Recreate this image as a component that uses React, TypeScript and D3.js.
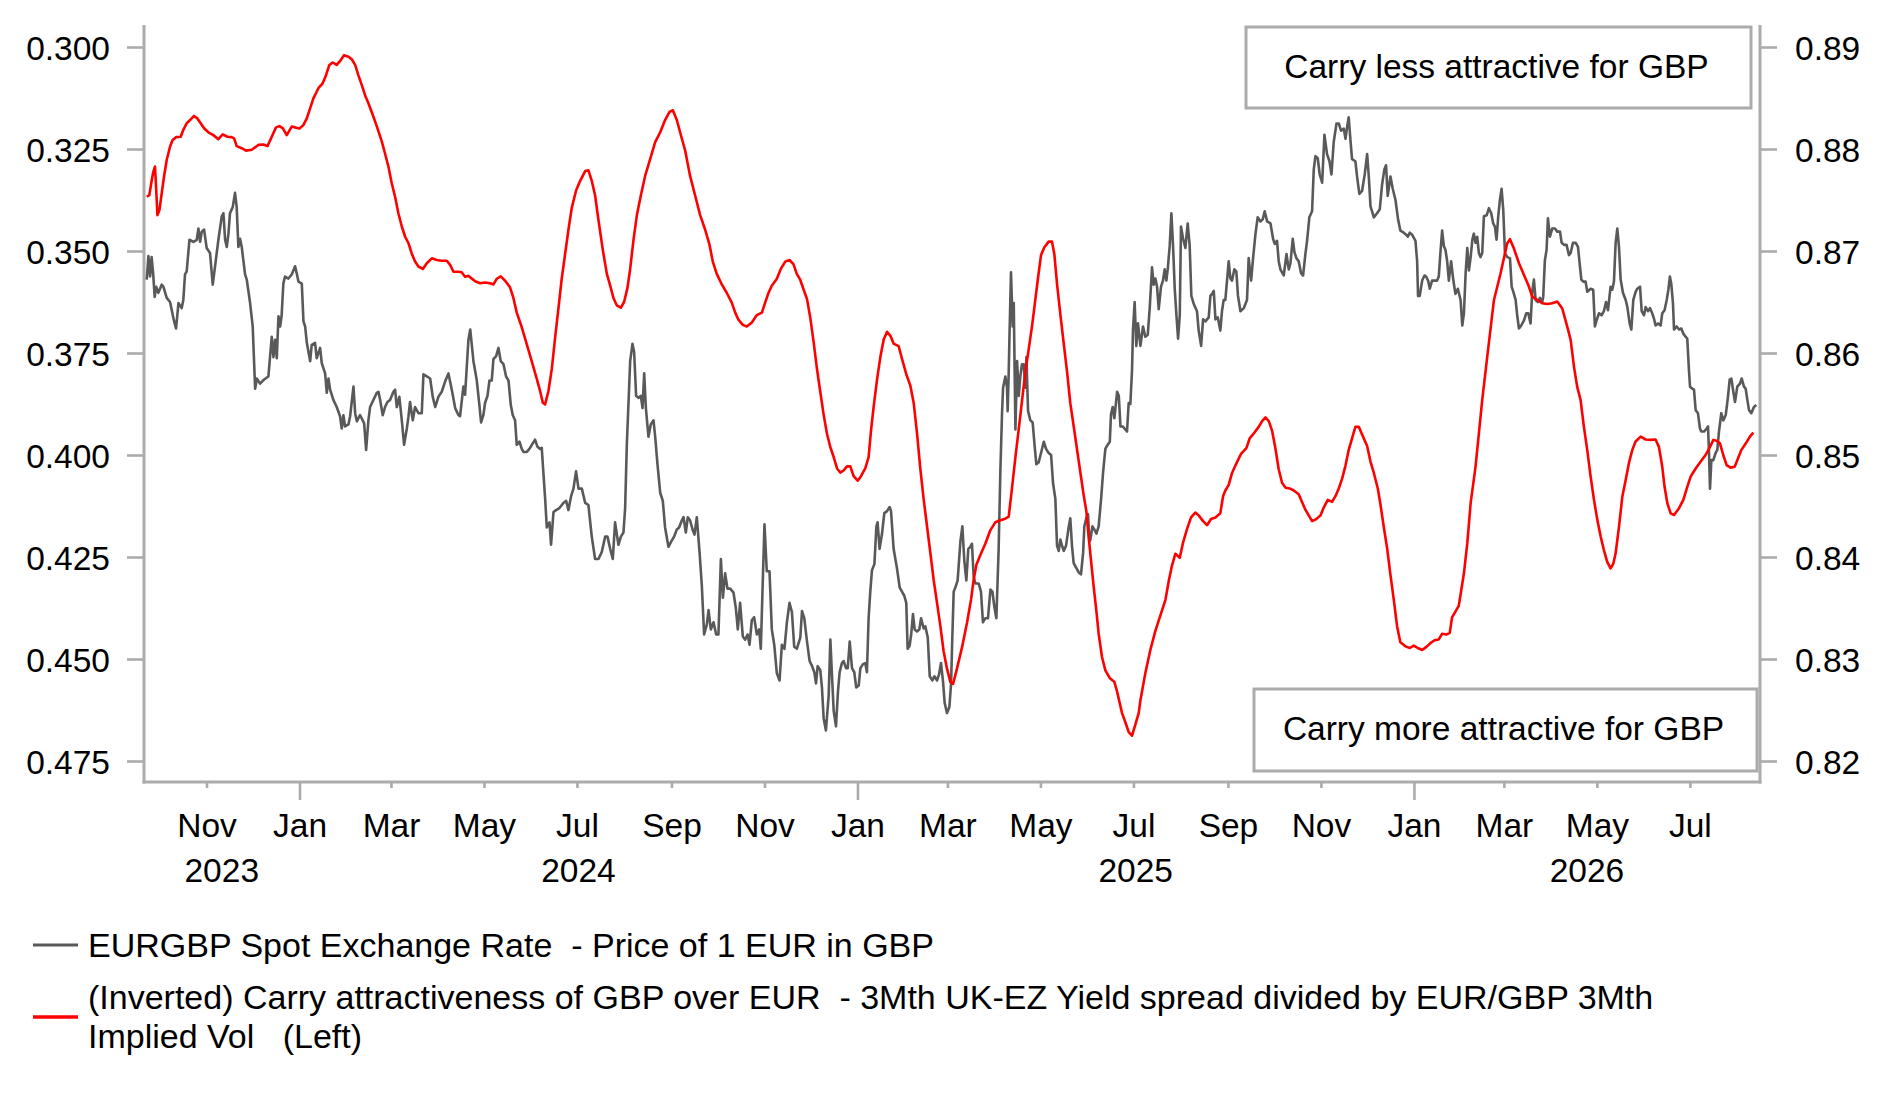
import React, { useEffect, useRef } from "react";
import * as d3 from "d3";

// x values are days counted from 21 Sep 2023 (left edge of the chart)
const START = new Date(2023, 8, 21);
const END = new Date(2026, 7, 16);

// EURGBP spot, right axis
const eurgbpSpot: [number, number][] = [
  [1.8,0.8672],[2.9,0.8695],[4,0.8675],[5,0.8694],[6,0.8678],[7,0.8655],[8,0.8665],[9.4,0.8659],[11.6,0.8667],[12.7,0.8665],
  [14.9,0.8654],[17.1,0.865],[19.3,0.8634],[21,0.8624],[22.6,0.8649],[24.7,0.8644],[25.8,0.8652],[26.9,0.8677],[28,0.868],[29.8,0.8711],
  [32.4,0.8709],[34.6,0.8711],[35.7,0.8722],[36.8,0.8709],[37.9,0.8719],[39.4,0.8721],[41.1,0.8703],[43.3,0.8698],[45.1,0.8667],[46.6,0.8685],
  [48.8,0.8711],[51,0.8734],[52.1,0.8737],[53.2,0.8711],[54.3,0.8704],[55.4,0.8717],[56.4,0.8737],[58.2,0.8743],[59.7,0.8757],[60.8,0.8743],
  [61.9,0.8704],[63,0.8712],[64.1,0.8704],[66.3,0.8677],[67.4,0.8672],[69.6,0.8649],[71.3,0.8626],[72.9,0.8565],[74,0.8575],[76.1,0.857],
  [78.8,0.8574],[81.6,0.8577],[83.8,0.8616],[84.9,0.8596],[86,0.8613],[87.1,0.8595],[88.2,0.8636],[89.3,0.8626],[90.3,0.8637],[91.4,0.8668],
  [92.5,0.8675],[94.7,0.8673],[96.9,0.8677],[99.1,0.8685],[100.2,0.8678],[101.3,0.867],[103.5,0.8668],[104.6,0.8631],[105.7,0.8626],[106.8,0.861],
  [109,0.8592],[110,0.8608],[112.2,0.861],[113.3,0.8595],[115.5,0.8605],[116.6,0.859],[118.8,0.858],[119.9,0.8561],[121,0.8575],[122.1,0.8564],
  [124.2,0.8554],[126.4,0.8547],[128.6,0.8538],[129.7,0.8526],[130.8,0.8539],[131.9,0.8528],[134.1,0.853],[135.2,0.8538],[137.4,0.8567],[138.5,0.8541],
  [139.6,0.8533],[141.7,0.8539],[142.8,0.8536],[144.4,0.8531],[145.7,0.8505],[147.2,0.8534],[148.3,0.8547],[150.5,0.8554],[152.7,0.8561],[153.8,0.8562],
  [154.9,0.8554],[156.6,0.8539],[158.1,0.8547],[159.7,0.8552],[161.4,0.8554],[163.6,0.8562],[164.7,0.8564],[165.8,0.8547],[167.5,0.8557],[169.1,0.8534],
  [170.6,0.851],[172.4,0.8526],[173.5,0.8538],[174.5,0.8552],[176.3,0.8534],[177.8,0.8547],[180,0.8541],[182.2,0.8541],[183.3,0.8579],[185.5,0.8577],
  [187.7,0.8575],[189.4,0.8557],[191,0.8547],[193.1,0.8557],[195.3,0.8562],[197.5,0.8572],[199.7,0.858],[201.9,0.8564],[204.1,0.8546],[206.3,0.8539],
  [207.3,0.8538],[209.5,0.8567],[210.6,0.8559],[212.8,0.8613],[214,0.8623],[216.1,0.8592],[218.3,0.8573],[220,0.8549],[221.1,0.8532],[222.6,0.8539],
  [223.7,0.8551],[225.3,0.8558],[226.6,0.8573],[228.1,0.8573],[229.2,0.8594],[231,0.8597],[232.5,0.8605],[234,0.8592],[235.8,0.8589],[237.5,0.8577],
  [239.1,0.8573],[240.6,0.8549],[241.9,0.8539],[243.4,0.8534],[244.5,0.851],[246.3,0.8513],[247.8,0.8506],[248.9,0.8503],[251.1,0.8503],[252.8,0.8506],
  [254.4,0.851],[256.5,0.8515],[258.1,0.8508],[259.8,0.8506],[260.9,0.8507],[262,0.8482],[263.1,0.8458],[264.2,0.8429],[266,0.8434],[267,0.8412],
  [268.6,0.8444],[270.3,0.8446],[272.5,0.8448],[275.1,0.8453],[276.9,0.8455],[278.4,0.8446],[280.2,0.846],[281.7,0.8467],[283.4,0.8484],[285,0.8467],
  [287.2,0.8467],[289.4,0.8453],[291.5,0.8451],[293.7,0.842],[295.9,0.8398],[298.1,0.8398],[300.3,0.8405],[302.5,0.842],[304,0.842],[305.8,0.8408],
  [307.5,0.8398],[309,0.8434],[311.2,0.8412],[312.8,0.842],[314.5,0.8424],[315.6,0.8448],[316.7,0.851],[318.9,0.8592],[320.4,0.8609],[321.5,0.8601],
  [322.8,0.8558],[324.3,0.8556],[325.9,0.8558],[327,0.8546],[328.1,0.858],[329.2,0.8546],[330.9,0.8518],[332.4,0.853],[334.2,0.8534],[335.3,0.8518],
  [336.8,0.8491],[338.6,0.8463],[340.3,0.8455],[341.8,0.8429],[344,0.841],[345.8,0.8415],[347.7,0.842],[349.5,0.8427],[351,0.8429],[352.8,0.8436],
  [353.9,0.8439],[355.4,0.8424],[356.7,0.8439],[358.2,0.8436],[359.8,0.8427],[361.1,0.8422],[362.6,0.8439],[364.4,0.8405],[365.9,0.8372],[367.4,0.8324],
  [369.2,0.8334],[370.3,0.8348],[371.8,0.8329],[373.6,0.8336],[375.3,0.8324],[376.8,0.8324],[378.4,0.8398],[379.7,0.836],[381.2,0.8384],[382.7,0.8369],
  [384.5,0.8369],[386.7,0.8365],[388.2,0.835],[389.5,0.8329],[391,0.8355],[392.8,0.8322],[394.3,0.8319],[395.9,0.8324],[397.2,0.8314],[398.7,0.8338],
  [400.2,0.8341],[402,0.8324],[403.5,0.8329],[404.6,0.831],[405.7,0.8367],[407,0.8432],[408.5,0.8386],[410.3,0.8386],[411.8,0.8329],[413.4,0.8314],
  [415.1,0.8286],[416.9,0.8279],[418.4,0.8314],[420.1,0.831],[421.7,0.8336],[423.4,0.8355],[425,0.8346],[426.5,0.8312],[428.2,0.831],[430.5,0.8321],
  [431.6,0.8347],[433.1,0.834],[434.9,0.8317],[436.6,0.8298],[438.2,0.8293],[439.7,0.8287],[440.8,0.8276],[441.9,0.8293],[443.6,0.8289],[444.7,0.8272],
  [445.8,0.8242],[447.3,0.823],[449.1,0.8264],[450.2,0.8319],[451.3,0.8283],[452.4,0.8249],[453.9,0.8234],[455.2,0.8268],[456.3,0.8287],[457.8,0.8296],
  [458.9,0.8298],[460.5,0.8291],[461.6,0.8291],[462.9,0.8317],[464.4,0.8291],[465.9,0.8287],[467.2,0.8272],[468.8,0.8274],[469.9,0.8291],[471.6,0.8295],
  [473.1,0.8296],[474.2,0.8287],[475.3,0.834],[476.4,0.8366],[477.5,0.8387],[479.1,0.8393],[480.4,0.843],[481.2,0.8434],[482.5,0.8408],[484.1,0.8423],
  [485.6,0.8443],[487.4,0.8445],[489.1,0.8449],[490,0.8445],[491.7,0.8408],[493.9,0.8389],[495.7,0.837],[497.2,0.8366],[498.7,0.8362],[500,0.8355],
  [500.9,0.831],[502.2,0.8313],[503.3,0.8325],[504.4,0.8344],[505.5,0.8329],[507,0.8327],[508.6,0.8329],[509.7,0.834],[511.4,0.833],[512.5,0.8332],
  [514.1,0.8321],[515.4,0.8283],[517.1,0.8279],[518.4,0.8283],[520.2,0.8279],[521.5,0.8285],[522.8,0.8296],[524.1,0.8278],[525.2,0.8257],[526.7,0.8247],
  [528.3,0.8253],[529.4,0.8276],[530,0.831],[531.1,0.8366],[532.2,0.837],[533.7,0.8377],[535.5,0.8415],[536.8,0.843],[538.1,0.8396],[539.4,0.8377],
  [540.7,0.8408],[542,0.841],[543.1,0.8413],[544.2,0.8381],[545.3,0.8374],[547.5,0.8374],[549,0.8366],[550.3,0.8336],[551.9,0.834],[553.6,0.834],
  [555.2,0.8368],[556.5,0.8366],[557.8,0.8351],[559.1,0.834],[560.6,0.8408],[561.7,0.8483],[562.8,0.854],[563.5,0.8566],[565,0.8577],[566.1,0.8566],
  [566.5,0.8543],[567.2,0.8581],[567.8,0.8623],[568.7,0.8679],[569.8,0.8626],[570.5,0.8649],[571.6,0.8525],[572.7,0.8592],[573.8,0.8558],[574.8,0.8577],
  [575.9,0.8589],[577,0.8589],[578.1,0.8566],[578.8,0.8596],[579.9,0.8543],[581.4,0.8534],[582.9,0.8532],[584.2,0.8509],[585.3,0.8491],[586.9,0.8493],
  [588.4,0.8502],[590.2,0.8513],[591.7,0.8506],[593.4,0.8502],[595,0.85],[596.3,0.8472],[597.8,0.8457],[598.9,0.8411],[600,0.8406],[601.1,0.8417],
  [602.2,0.8411],[603.3,0.8406],[604.8,0.8411],[606.6,0.843],[607.6,0.8438],[608.7,0.8411],[609.8,0.8394],[611.6,0.8389],[613.1,0.8385],[614.6,0.8383],
  [616,0.8404],[616.8,0.843],[618.1,0.8438],[619.2,0.8442],[620.1,0.8415],[620.8,0.8417],[622.1,0.843],[623.4,0.8427],[624.7,0.8423],[626.2,0.843],
  [627.8,0.8457],[629.1,0.8483],[630.6,0.8506],[631.7,0.8509],[633.5,0.8513],[634.3,0.854],[635.4,0.8547],[636.5,0.8536],[637.4,0.8549],[638.3,0.8562],
  [639.4,0.8558],[640.5,0.8528],[642,0.8528],[643.7,0.8525],[644.8,0.8523],[645.9,0.8551],[647,0.855],[648.1,0.8584],[648.7,0.8622],[649.8,0.865],
  [650.9,0.8607],[652,0.8629],[653.6,0.8607],[655.3,0.8626],[656.8,0.8616],[658.4,0.8618],[659.7,0.8644],[661.2,0.8684],[662.3,0.8667],[663.4,0.8673],
  [664.5,0.8665],[665.6,0.8643],[667.1,0.8665],[668.4,0.8671],[669.5,0.8682],[670.6,0.8671],[671.5,0.8682],[672.8,0.8705],[673.9,0.8737],[675,0.8705],
  [676.1,0.8663],[677.2,0.8637],[678.3,0.8614],[679.4,0.8637],[680.2,0.8724],[681.6,0.8712],[683.1,0.8703],[684.6,0.8727],[685.9,0.8705],[687,0.8656],
  [688.6,0.8648],[690.7,0.8641],[691.8,0.8622],[693.4,0.8607],[694.7,0.8633],[696.2,0.8631],[698.4,0.8635],[699.5,0.8656],[700.6,0.8658],[701.7,0.8661],
  [702.8,0.8633],[704.3,0.8635],[706,0.8622],[707.1,0.8641],[708.2,0.8652],[709.3,0.8652],[710.4,0.8671],[711.5,0.869],[712.6,0.8673],[713.7,0.8671],
  [715.2,0.8682],[716.5,0.868],[717.6,0.8656],[719.2,0.8641],[721.4,0.8644],[723.5,0.8652],[724.6,0.8693],[726.2,0.8671],[727.5,0.8693],[729,0.8716],
  [730.5,0.8733],[732.3,0.8729],[733.8,0.8731],[735.1,0.8739],[736.7,0.8729],[738.9,0.8727],[740.6,0.8712],[741.7,0.8707],[743.2,0.871],[744.3,0.869],
  [745.4,0.8682],[747.6,0.8676],[749.4,0.8697],[750.9,0.8682],[752,0.8688],[753.5,0.8712],[754.6,0.8699],[755.9,0.8693],[757.4,0.869],[759,0.8678],
  [760.3,0.8676],[761.8,0.8697],[762.9,0.871],[764.4,0.8733],[766.2,0.8739],[767.3,0.878],[768.4,0.8793],[769.9,0.8791],[771.2,0.8775],[772.8,0.8767],
  [774.3,0.8814],[776,0.8795],[777.6,0.8788],[778.9,0.8775],[780.4,0.8807],[782.2,0.8825],[783.7,0.8825],[785.2,0.8818],[787,0.882],[788.1,0.881],
  [789.2,0.8822],[790.2,0.8831],[791.3,0.881],[792.4,0.879],[794.6,0.8788],[795.7,0.8773],[797.2,0.8756],[799,0.8759],[800.7,0.8775],[802.3,0.8795],
  [803.4,0.8773],[804.5,0.8744],[806.7,0.8733],[808.8,0.8737],[810.6,0.8741],[812.1,0.8765],[813.6,0.878],[814.7,0.8784],[815.8,0.8754],[817.6,0.8773],
  [819.1,0.8761],[820.9,0.875],[822.6,0.8731],[824.1,0.872],[826.3,0.8718],[827.9,0.8716],[829,0.8714],[830.3,0.8718],[831.8,0.8716],[834,0.871],
  [835.1,0.869],[835.7,0.8656],[836.8,0.8656],[838.4,0.8671],[839.9,0.8676],[841,0.8675],[842.3,0.8671],[843.4,0.8663],[844.9,0.8671],[846.5,0.8671],
  [848.2,0.8671],[849.3,0.8675],[850.4,0.8699],[851.5,0.872],[852.6,0.8705],[853.7,0.8701],[854.8,0.869],[855.9,0.8671],[857.4,0.869],[858.7,0.8673],
  [860.2,0.8658],[861.8,0.8663],[863.6,0.8652],[864.7,0.8627],[865.8,0.8639],[866.9,0.8678],[868,0.8703],[869.1,0.8681],[870.2,0.8694],[871.3,0.8711],
  [872.3,0.8717],[873.4,0.8708],[874.5,0.8714],[875.6,0.8698],[876.7,0.8694],[877.8,0.8698],[878.9,0.8734],[880.7,0.8735],[882.2,0.8742],[883.7,0.8737],
  [885,0.8727],[886.1,0.8724],[887.2,0.8711],[888.3,0.8734],[889.4,0.875],[890.5,0.8761],[891.6,0.874],[892.7,0.8698],[894.2,0.8694],[896,0.8693],
  [897.1,0.8665],[898.2,0.866],[899.7,0.8652],[900.8,0.8636],[901.9,0.8624],[903.4,0.8627],[905.2,0.8632],[906.7,0.8639],[908,0.8639],[909.5,0.8629],
  [910.6,0.866],[911.7,0.8672],[912.8,0.8652],[914.3,0.865],[915.7,0.8654],[917,0.8649],[917.8,0.8655],[918.9,0.8691],[920,0.8701],[920.9,0.8732],
  [922.2,0.8714],[923.7,0.8722],[925.5,0.8722],[927,0.8719],[928.8,0.8719],[929.9,0.8708],[931.4,0.8706],[933.1,0.8706],[934.7,0.8696],[935.8,0.8698],
  [937.3,0.8708],[939.1,0.8708],[940.6,0.8704],[941.9,0.8685],[942.8,0.8672],[944.1,0.867],[945.6,0.867],[946.7,0.866],[948.9,0.8663],[950.6,0.8662],
  [951.7,0.8626],[952.8,0.8632],[954.4,0.8639],[956.1,0.8637],[957.6,0.8641],[959,0.865],[960.3,0.8642],[962,0.8665],[963.1,0.8662],[964.2,0.867],
  [965.3,0.8708],[966.4,0.8722],[967.5,0.8704],[968.6,0.8672],[970.1,0.8659],[971.9,0.8652],[973,0.8645],[974.5,0.8629],[975.6,0.8623],[976.9,0.8652],
  [978.4,0.866],[979.5,0.8663],[981.3,0.8665],[982.4,0.8641],[983.9,0.8637],[985,0.8645],[986.5,0.8641],[987.8,0.8644],[989.3,0.8639],[990.4,0.8634],
  [991.5,0.8627],[993.1,0.8629],[994.8,0.8627],[995.9,0.8639],[997.4,0.8642],[998.8,0.8652],[999.9,0.8662],[1000.9,0.8675],[1001.8,0.8668],[1002.9,0.8649],
  [1003.6,0.8623],[1005.3,0.8626],[1006.9,0.8623],[1008.4,0.8624],[1009.7,0.8619],[1011.2,0.8616],[1012.3,0.8614],[1013.4,0.8583],[1014.1,0.8567],[1015.6,0.8565],
  [1016.7,0.8564],[1017.8,0.8544],[1019.3,0.8541],[1020.6,0.8526],[1021.5,0.8523],[1023.3,0.8523],[1025,0.8526],[1025.9,0.8528],[1026.5,0.8505],[1027.2,0.8467],
  [1028.1,0.8495],[1029.4,0.8495],[1030.9,0.8502],[1032,0.8505],[1033.1,0.8523],[1034.6,0.8541],[1035.9,0.8534],[1037.5,0.8539],[1039,0.8557],[1040.1,0.8574],
  [1041.2,0.8575],[1042.5,0.8562],[1043.6,0.8552],[1045.1,0.8567],[1046.9,0.857],[1048,0.8575],[1049.5,0.8567],[1050.6,0.8565],[1051.7,0.8554],[1052.8,0.8544],
  [1054.3,0.8541],[1056,0.8547],[1057.6,0.8549],
];

// (inverted) carry attractiveness, left axis
const carryInverted: [number, number][] = [
  [1.8,0.3367],[3.5,0.3363],[5.1,0.3326],[6.1,0.3306],[7.2,0.3293],[7.9,0.3342],[8.8,0.3412],[10.1,0.34],[11.6,0.3359],[13.1,0.3318],
  [14.9,0.3277],[17.1,0.3244],[18.8,0.3228],[21,0.3221],[24.1,0.322],[25.8,0.3203],[28,0.3187],[30.2,0.3179],[32.8,0.3169],[35,0.3175],
  [37.2,0.3187],[39.4,0.3199],[42.2,0.3209],[45.5,0.3216],[48.8,0.3226],[51.6,0.3214],[54.7,0.322],[57.5,0.3221],[59.1,0.3224],[60.8,0.3243],
  [64.1,0.3248],[66.9,0.3254],[70.7,0.3252],[75,0.324],[78.3,0.3239],[81,0.3243],[83.8,0.322],[86.6,0.3197],[88.8,0.3194],[91,0.3199],
  [93.6,0.3216],[96.9,0.3195],[99.1,0.3197],[101.9,0.32],[104.6,0.3191],[106.8,0.3175],[109,0.315],[111.1,0.3126],[114.4,0.3101],[117.2,0.3089],
  [119.4,0.3069],[121.6,0.3044],[123.8,0.3038],[126.4,0.3044],[129.1,0.3032],[131.2,0.302],[134.1,0.3024],[136.3,0.303],[138.5,0.3044],[140.6,0.3069],
  [142.8,0.3093],[145,0.3118],[147.2,0.3138],[150.5,0.3171],[153.1,0.3199],[156,0.3232],[158.1,0.3261],[160.3,0.3293],[162.5,0.3334],[164.7,0.3367],
  [166.9,0.3408],[169.1,0.344],[171.3,0.3465],[173.5,0.3481],[175.6,0.3506],[177.8,0.3526],[180,0.3538],[182.9,0.3544],[185.5,0.353],[188.8,0.3518],
  [192,0.3522],[195.3,0.3524],[198.6,0.3524],[200.8,0.3534],[203,0.3551],[206.3,0.3551],[208.4,0.3552],[210.6,0.3563],[212.8,0.3561],[217.2,0.3574],
  [220.5,0.3579],[223.7,0.3577],[227,0.3579],[229.2,0.3582],[231.4,0.3568],[234,0.3562],[236.9,0.3573],[240.1,0.3589],[242.3,0.3615],[244.5,0.3651],
  [247.8,0.3687],[251.1,0.3729],[254.4,0.3771],[257.6,0.3813],[259.8,0.3843],[261.6,0.3872],[263.1,0.3876],[265.3,0.3843],[267.5,0.3789],[269.7,0.3711],
  [271.9,0.3639],[274,0.3568],[276.2,0.3508],[278.4,0.3448],[280.6,0.3394],[283.4,0.3352],[286.1,0.3328],[289.4,0.3304],[291.5,0.3302],[293.7,0.3328],
  [295.9,0.3364],[298.1,0.3424],[300.9,0.3496],[303.6,0.3556],[305.8,0.3585],[307.9,0.3615],[310.1,0.3633],[312.8,0.3639],[314.9,0.3625],[317.1,0.3591],
  [318.9,0.3544],[321.1,0.3472],[323.3,0.3412],[325.9,0.3364],[328.7,0.3316],[332,0.3275],[335.3,0.3233],[338.6,0.3209],[341.8,0.3179],[344.7,0.3159],
  [346.9,0.3155],[349.5,0.3179],[352.1,0.3215],[355,0.3254],[358.2,0.3316],[361.5,0.3364],[364.8,0.3412],[368.1,0.3448],[370.9,0.3484],[373.1,0.3526],
  [375.7,0.3556],[379,0.3582],[382.3,0.3603],[385.6,0.3627],[387.8,0.3651],[390,0.3669],[392.8,0.3681],[395.4,0.3685],[398.7,0.3675],[402,0.3657],
  [405.3,0.3651],[407.4,0.3627],[409.6,0.3603],[411.8,0.3585],[415.1,0.3568],[417.7,0.3544],[420.6,0.3526],[423.4,0.3522],[426,0.3532],[428.2,0.3556],
  [430.5,0.3571],[432.7,0.3595],[434.9,0.3618],[437.1,0.3665],[439.2,0.3722],[441.4,0.3788],[443.6,0.3845],[445.8,0.3901],[448,0.3948],[450.2,0.3981],
  [452.4,0.4005],[454.6,0.4033],[456.7,0.4043],[458.9,0.4038],[461.1,0.4028],[463.3,0.4028],[465.5,0.4052],[468.1,0.4063],[470.3,0.4052],[473.1,0.4033],
  [475.3,0.4005],[476.9,0.3939],[478.6,0.3882],[480.8,0.3816],[483,0.376],[485.2,0.3717],[487.4,0.3698],[489.6,0.3708],[491.7,0.3727],[495,0.3733],
  [497.2,0.3764],[500,0.3802],[502.7,0.383],[504.9,0.3873],[507.1,0.3948],[509.2,0.4033],[511.4,0.4108],[513.6,0.4174],[515.8,0.424],[518,0.4307],
  [520.2,0.4363],[522.4,0.442],[524.5,0.4481],[526.7,0.4523],[528.9,0.4556],[530.7,0.4561],[533.3,0.4523],[536.6,0.4471],[539.9,0.441],[542.5,0.4354],
  [544.2,0.4306],[546,0.4269],[548.6,0.4245],[551.9,0.4217],[555.2,0.4184],[558.4,0.4165],[561.7,0.416],[565,0.4156],[567.2,0.4151],[569.4,0.408],
  [571.6,0.4005],[573.7,0.3939],[575.9,0.3868],[578.1,0.3797],[580.3,0.3741],[582.5,0.3684],[584.7,0.3618],[586.9,0.3552],[588.4,0.351],[590.6,0.3491],
  [593.4,0.3477],[595.6,0.3477],[597.2,0.351],[598.9,0.3581],[601.1,0.3656],[603.3,0.3727],[605.5,0.3797],[607.6,0.3873],[609.8,0.3929],[612,0.3986],
  [614.2,0.4043],[616.4,0.4099],[618.1,0.4137],[619.7,0.4203],[621.2,0.4259],[623,0.4325],[624.7,0.4382],[626.2,0.4438],[628.4,0.4495],[630.6,0.4528],
  [633.5,0.4547],[636.5,0.4556],[638.3,0.458],[640,0.4608],[641.5,0.4632],[643.7,0.4655],[645.9,0.4679],[648.1,0.4688],[650.3,0.466],[652.5,0.4632],
  [653.6,0.4601],[656.8,0.4535],[660.1,0.4478],[663.4,0.4431],[666.7,0.4393],[670,0.4355],[672.2,0.4308],[674.3,0.4271],[676.5,0.4242],[679.4,0.4252],
  [681.6,0.4214],[684.2,0.4181],[686.8,0.4153],[689.6,0.4141],[691.8,0.4148],[694.7,0.4162],[697.3,0.4172],[699.9,0.4157],[702.8,0.4153],[706,0.4143],
  [707.8,0.4101],[709.3,0.4087],[711.5,0.4073],[713.7,0.4044],[716.5,0.4021],[719.6,0.3997],[723.1,0.3983],[725.3,0.3959],[728.4,0.3945],[731.2,0.3931],
  [733.4,0.3917],[735.6,0.3908],[737.8,0.3917],[740,0.3941],[742.1,0.3983],[744.3,0.4035],[746.5,0.4068],[748.7,0.408],[751.5,0.4082],[754.2,0.4087],
  [757.4,0.4096],[759.6,0.4115],[761.8,0.4134],[764,0.4148],[766.2,0.4162],[769,0.4157],[771.7,0.4148],[773.8,0.4129],[776.5,0.411],[779.3,0.4115],
  [781.5,0.4101],[783.7,0.4082],[785.9,0.4058],[788.1,0.4026],[790.2,0.3988],[792.4,0.3959],[794.6,0.3931],[796.8,0.3931],[799,0.395],[802.3,0.3978],
  [804.5,0.4016],[806.7,0.4044],[809.3,0.4082],[811,0.412],[813.2,0.4176],[815.4,0.4228],[817.6,0.4294],[819.8,0.4355],[822,0.4421],[824.1,0.4459],
  [827.4,0.4469],[830.3,0.4473],[832.9,0.4467],[835.5,0.4473],[838.4,0.4478],[841.6,0.4469],[843.8,0.4461],[846.5,0.4454],[849.3,0.4452],[851.5,0.4438],
  [854.3,0.444],[856.5,0.4436],[858,0.4398],[860.2,0.4384],[862.4,0.437],[865.8,0.429],[868,0.4216],[870.2,0.4118],[873.4,0.4029],[877.8,0.3865],
  [881.1,0.3759],[885.5,0.362],[889.8,0.3555],[894.2,0.3481],[896,0.3471],[898.6,0.3494],[901.9,0.353],[905.2,0.3559],[908.4,0.3587],[910.6,0.3612],
  [913.9,0.362],[917.2,0.3628],[920.5,0.363],[923.7,0.3628],[927,0.3624],[930.3,0.3641],[933.6,0.3686],[935.8,0.3718],[938,0.3784],[940.1,0.3833],
  [942.3,0.3865],[944.5,0.3931],[946.7,0.3988],[948.9,0.4053],[951.1,0.411],[953.3,0.4159],[955.5,0.42],[957.6,0.4233],[959.8,0.4262],[962,0.4278],
  [963.8,0.4266],[965.3,0.4241],[967.5,0.4176],[969.7,0.4102],[971.9,0.4061],[974,0.402],[976.2,0.3988],[978.4,0.3967],[981.7,0.3955],[985,0.3962],
  [988.3,0.3963],[991.5,0.3962],[993.7,0.398],[995.9,0.4029],[997.4,0.4078],[999.2,0.4118],[1001.4,0.4143],[1003.6,0.4147],[1006.8,0.4131],[1009.7,0.411],
  [1012.3,0.4078],[1014.5,0.4053],[1017.8,0.4033],[1021.1,0.4016],[1024.3,0.4],[1027.2,0.398],[1029.4,0.3963],[1031.6,0.3965],[1033.7,0.3971],[1035.9,0.4],
  [1038.1,0.4025],[1040.7,0.4031],[1043.4,0.4029],[1045.6,0.4008],[1047.7,0.3988],[1050.6,0.3972],[1053.4,0.3955],[1055.6,0.3945],
];

const leftTicks = [0.3, 0.325, 0.35, 0.375, 0.4, 0.425, 0.45, 0.475];
const rightTicks = [0.89, 0.88, 0.87, 0.86, 0.85, 0.84, 0.83, 0.82];
const years = [2023, 2024, 2025, 2026];

const spotLabel = "EURGBP Spot Exchange Rate  - Price of 1 EUR in GBP";
const carryLabel = [
  "(Inverted) Carry attractiveness of GBP over EUR  - 3Mth UK-EZ Yield spread divided by EUR/GBP 3Mth",
  "Implied Vol   (Left)",
];
const noteTop = "Carry less attractive for GBP";
const noteBottom = "Carry more attractive for GBP";

const W = 1883;
const H = 1101;
const FONT = "'Liberation Sans', Arial, sans-serif";
const FS = 33.5;
const AXIS = "#ababab";
const GREY = "#595959";
const RED = "#ff0000";

const toDate = (d: number) => new Date(START.getTime() + d * 86400000);

const Chart = () => {
  const ref = useRef<SVGSVGElement>(null);

  useEffect(() => {
    const svg = d3.select(ref.current);
    svg.selectAll("*").remove();

    const left = 144, right = 1760, top = 25, bottom = 782;

    const x = d3.scaleTime().domain([START, END]).range([left, right]);
    const yLeft = d3.scaleLinear().domain([0.3, 0.475]).range([47, 761]);
    const yRight = d3.scaleLinear().domain([0.89, 0.82]).range([47, 761]);

    svg.append("rect").attr("width", W).attr("height", H).attr("fill", "white");

    const root = svg.append("g").style("font-family", FONT).style("font-size", `${FS}px`);

    // axis lines
    root.append("line").attr("x1", left).attr("x2", left).attr("y1", top).attr("y2", bottom + 1.5)
      .attr("stroke", AXIS).attr("stroke-width", 3);
    root.append("line").attr("x1", right).attr("x2", right).attr("y1", top).attr("y2", bottom + 1.5)
      .attr("stroke", AXIS).attr("stroke-width", 3);
    root.append("line").attr("x1", left - 1.5).attr("x2", right + 1.5).attr("y1", bottom).attr("y2", bottom)
      .attr("stroke", AXIS).attr("stroke-width", 3);

    // left axis
    const gl = root.append("g").attr("transform", `translate(${left},0)`)
      .call(d3.axisLeft(yLeft).tickValues(leftTicks).tickFormat(d3.format(".3f"))
        .tickSizeInner(17).tickSizeOuter(0).tickPadding(17));
    gl.select(".domain").remove();

    // right axis
    const gr = root.append("g").attr("transform", `translate(${right},0)`)
      .call(d3.axisRight(yRight).tickValues(rightTicks).tickFormat(d3.format(".2f"))
        .tickSizeInner(17).tickSizeOuter(0).tickPadding(18));
    gr.select(".domain").remove();

    // bottom axis
    const gb = root.append("g").attr("transform", `translate(0,${bottom})`)
      .call(d3.axisBottom(x).ticks(d3.timeMonth.every(2)).tickFormat(d3.timeFormat("%b") as any)
        .tickSizeInner(6).tickSizeOuter(0));
    gb.select(".domain").remove();
    gb.selectAll<SVGLineElement, Date>(".tick line")
      .attr("y2", (d) => (d.getMonth() === 0 ? 18 : 6));
    gb.selectAll("text").attr("y", 54.5).attr("dy", "0");

    [gl, gr, gb].forEach((g) => {
      g.attr("font-family", null).attr("font-size", null);
      g.selectAll(".tick line").attr("stroke", AXIS).attr("stroke-width", 2.6);
      g.selectAll(".tick text").attr("fill", "#000");
    });
    gl.selectAll("text").attr("dy", "0.36em");
    gr.selectAll("text").attr("dy", "0.36em");

    // year labels, centred on the visible part of each year
    root.append("g").selectAll("text").data(years).join("text")
      .attr("x", (yr) => {
        const a = d3.max([START, new Date(yr, 0, 1)]) as Date;
        const b = d3.min([END, new Date(yr + 1, 0, 1)]) as Date;
        return (x(a) + x(b)) / 2;
      })
      .attr("y", 882)
      .attr("text-anchor", "middle")
      .text((yr) => yr);

    // series
    const spotLine = d3.line<[number, number]>()
      .x((d) => x(toDate(d[0])))
      .y((d) => yRight(d[1]));
    const carryLine = d3.line<[number, number]>()
      .x((d) => x(toDate(d[0])))
      .y((d) => yLeft(d[1]));

    root.append("path").datum(eurgbpSpot).attr("d", spotLine)
      .attr("fill", "none").attr("stroke", GREY).attr("stroke-width", 2.6).attr("stroke-linejoin", "round");
    root.append("path").datum(carryInverted).attr("d", carryLine)
      .attr("fill", "none").attr("stroke", RED).attr("stroke-width", 2.6).attr("stroke-linejoin", "round");

    // annotation boxes
    const boxes = [
      { x: 1246, y: 27, w: 505, h: 81, text: noteTop, ty: 78 },
      { x: 1254, y: 689, w: 503, h: 82, text: noteBottom, ty: 740 },
    ];
    const bg = root.append("g").selectAll("g").data(boxes).join("g");
    bg.append("rect")
      .attr("x", (d) => d.x).attr("y", (d) => d.y).attr("width", (d) => d.w).attr("height", (d) => d.h)
      .attr("fill", "white").attr("stroke", AXIS).attr("stroke-width", 3);
    bg.append("text")
      .attr("x", (d) => d.x + d.w / 2 - 2).attr("y", (d) => d.ty)
      .attr("text-anchor", "middle").text((d) => d.text);

    // legend (keeps the double spaces of the original labels)
    const lg = root.append("g").style("font-size", "34px");
    lg.append("line").attr("x1", 33).attr("x2", 78).attr("y1", 945).attr("y2", 945)
      .attr("stroke", GREY).attr("stroke-width", 3);
    lg.append("text").attr("x", 88).attr("y", 957)
      .attr("xml:space", "preserve").style("white-space", "pre").text(spotLabel);
    lg.append("line").attr("x1", 33).attr("x2", 78).attr("y1", 1017).attr("y2", 1017)
      .attr("stroke", RED).attr("stroke-width", 3.5);
    lg.append("g").selectAll("text").data(carryLabel).join("text")
      .attr("x", 88).attr("y", (_, i) => 1009 + i * 39)
      .attr("xml:space", "preserve").style("white-space", "pre").text((d) => d);
  }, []);

  return (
    <svg ref={ref} width={W} height={H} style={{ position: "absolute", left: 0, top: 0, display: "block" }} />
  );
};

export default function App() {
  return <Chart />;
}
